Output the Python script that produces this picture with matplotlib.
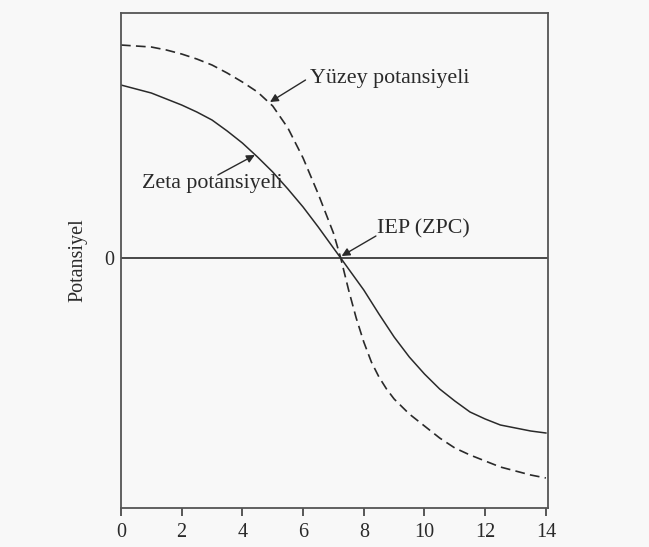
import matplotlib
matplotlib.use("Agg")
import matplotlib.pyplot as plt

plt.rcParams['font.family'] = ['Liberation Serif', 'DejaVu Serif']
plt.rcParams['lines.scale_dashes'] = False

# Data
x_zeta = [0, 0.5, 1.0, 1.5, 2.0, 2.5, 3.0, 3.5, 4.0, 4.5, 5.0, 5.5, 6.0, 6.5, 7.0, 7.24,
          7.5, 8.0, 8.5, 9.0, 9.5, 10.0, 10.5, 11.0, 11.5, 12.0, 12.5, 13.0, 13.5, 14.0]
y_zeta = [1.73, 1.69, 1.65, 1.59, 1.53, 1.46, 1.38, 1.27, 1.15, 1.01, 0.86, 0.69, 0.51, 0.31, 0.10, 0.0,
          -0.11, -0.32, -0.56, -0.79, -0.99, -1.16, -1.31, -1.43, -1.54, -1.61, -1.67, -1.70, -1.73, -1.75]

x_surf = [0, 0.5, 1.0, 1.5, 2.0, 2.5, 3.0, 3.5, 4.0, 4.5, 5.0, 5.5, 6.0, 6.5, 7.0, 7.24,
          7.5, 7.75, 8.0, 8.25, 8.5, 8.75, 9.0, 9.5, 10.0, 10.5, 11.0, 11.5, 12.0, 12.5, 13.0, 13.5, 14.0]
y_surf = [2.13, 2.12, 2.11, 2.08, 2.04, 1.99, 1.93, 1.85, 1.76, 1.66, 1.52, 1.30, 1.00, 0.64, 0.25, 0.0,
          -0.32, -0.60, -0.84, -1.04, -1.19, -1.31, -1.41, -1.56, -1.68, -1.80, -1.90, -1.97, -2.03, -2.09,
          -2.13, -2.17, -2.20]

xticks = [0, 2, 4, 6, 8, 10, 12, 14]
ylabel = "Potansiyel"
lbl_surf = "Yüzey potansiyeli"
lbl_zeta = "Zeta potansiyeli"
lbl_iep = "IEP (ZPC)"

bg = '#f8f8f8'
ink = '#2a2a2a'

fig = plt.figure(figsize=(6.49, 5.47), dpi=100, facecolor=bg)
ax = fig.add_axes([0.1864, 0.0713, 0.8444 - 0.1864, 0.9762 - 0.0713], facecolor=bg)

ax.plot(x_zeta, y_zeta, color=ink, lw=1.1)
ax.plot(x_surf, y_surf, color=ink, lw=1.2, linestyle='--', dashes=(7, 3.8))
ax.axhline(0, color=ink, lw=1.2)

ax.set_xlim(0, 14.07)
ax.set_ylim(-2.50, 2.45)
ax.set_xticks(xticks)
ax.set_xticklabels([str(t) for t in xticks])
ax.set_yticks([0])
ax.set_yticklabels(['0'])
ax.tick_params(axis='x', direction='out', length=6, width=1.1, pad=5, labelsize=14.5, colors=ink)
ax.tick_params(axis='y', length=0, pad=5, labelsize=14.5, colors=ink)
for s in ax.spines.values():
    s.set_color('#555555')
    s.set_linewidth(1.3)

ax.set_ylabel(ylabel, fontsize=14.5, color=ink, labelpad=12)

ap = dict(arrowstyle='-|>', color=ink, lw=1.0, mutation_scale=12, shrinkA=0, shrinkB=0)

ax.text(6.23, 1.75, lbl_surf, fontsize=15.8, color=ink, ha='left', va='baseline')
ax.annotate('', xy=(4.91, 1.56), xytext=(6.08, 1.78), arrowprops=ap)

ax.text(0.69, 0.70, lbl_zeta, fontsize=15.8, color=ink, ha='left', va='baseline')
ax.annotate('', xy=(4.41, 1.03), xytext=(3.19, 0.83), arrowprops=ap)

ax.text(8.43, 0.25, lbl_iep, fontsize=15.8, color=ink, ha='left', va='baseline')
ax.annotate('', xy=(7.27, 0.02), xytext=(8.40, 0.22), arrowprops=ap)

fig.savefig('out.png', dpi=100, facecolor=bg)
